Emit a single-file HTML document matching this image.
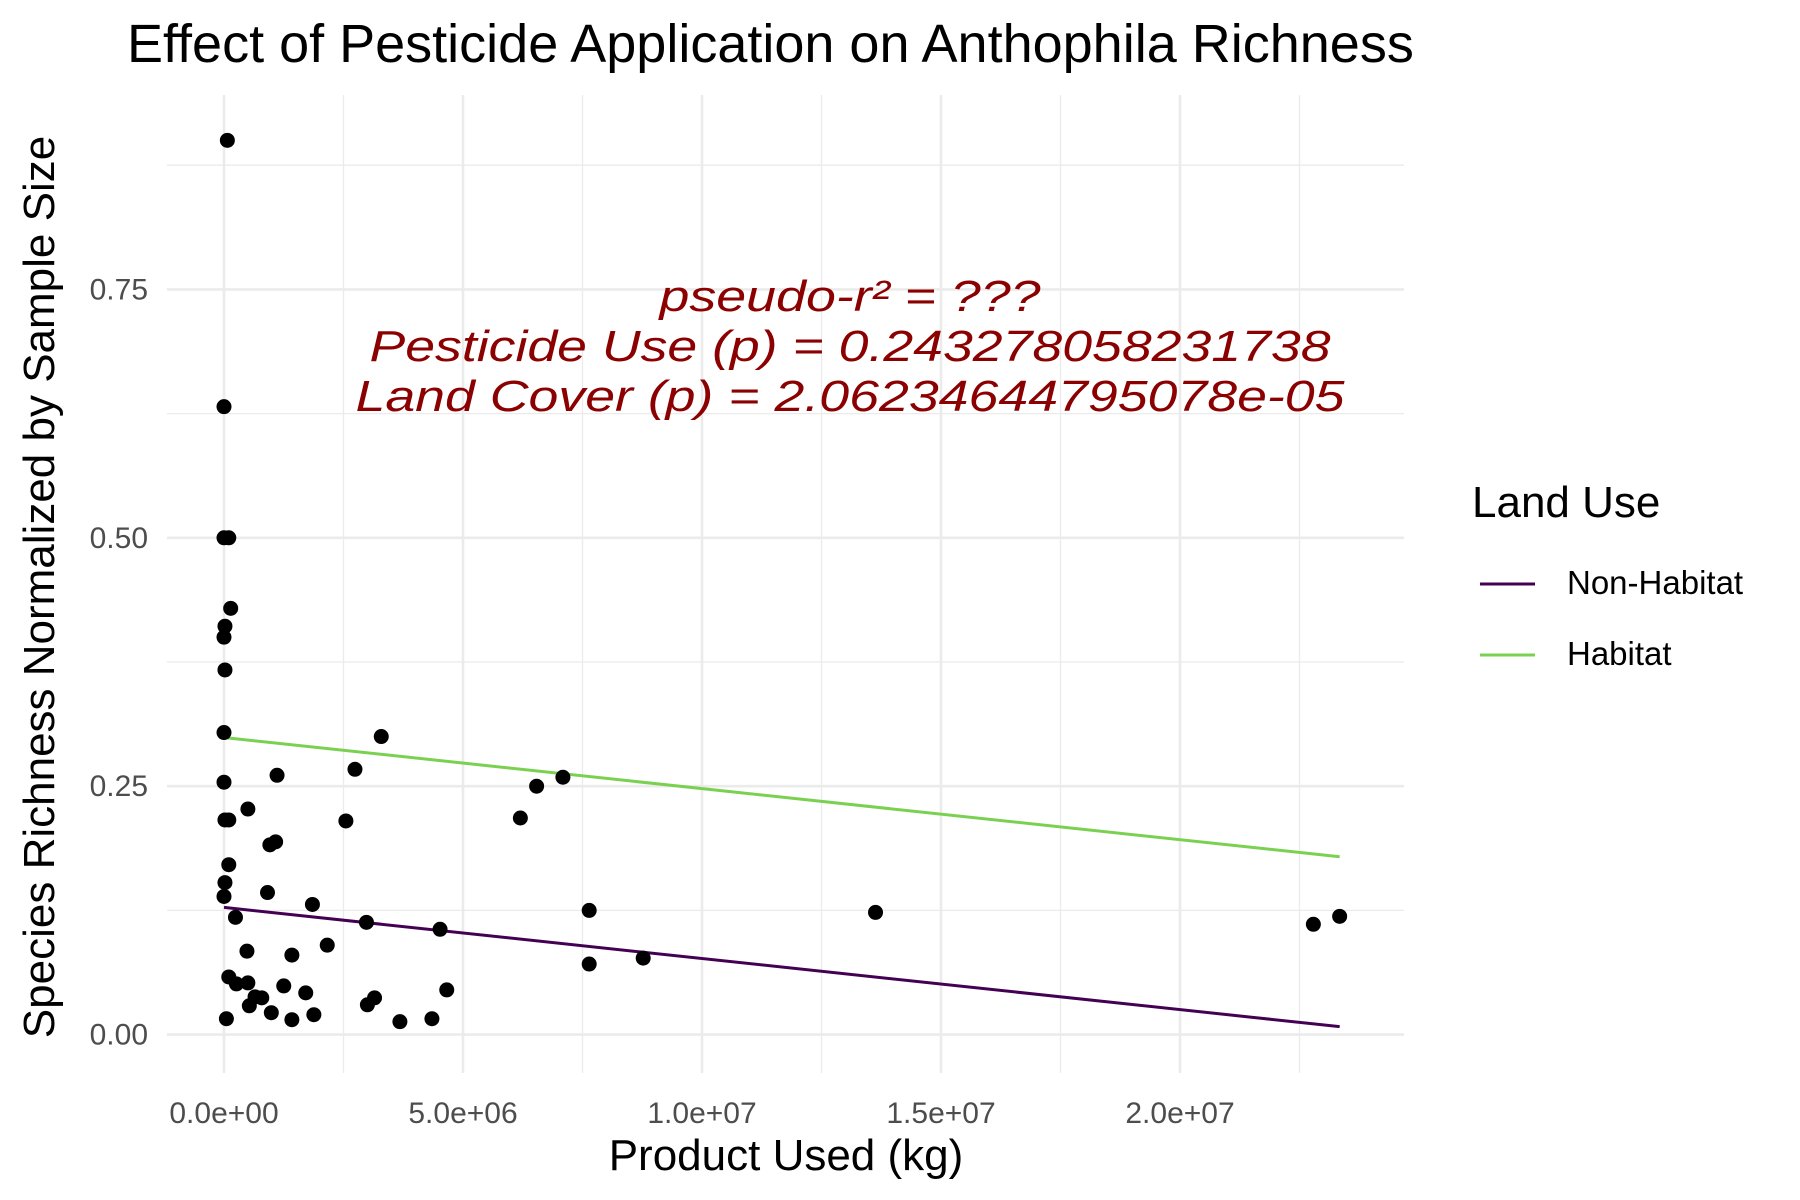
<!DOCTYPE html>
<html><head><meta charset="utf-8"><style>
body{margin:0;background:#fff;}
svg{display:block;font-family:"Liberation Sans",Arial,sans-serif;}
</style></head><body>
<svg id="chart" width="1800" height="1200" viewBox="0 0 1800 1200">
<text x="127" y="62" font-size="54" fill="#000">Effect of Pesticide Application on Anthophila Richness</text>
<g id="grid"></g>
<g id="lines"></g>
<g id="points"></g>
<g id="xticks"></g>
<g id="yticks"></g>
<g fill="#8B0000" font-style="italic" font-size="44" text-anchor="middle">
<text x="850" y="311" textLength="381" lengthAdjust="spacingAndGlyphs">pseudo-r² = ???</text>
<text x="850" y="361" textLength="961" lengthAdjust="spacingAndGlyphs">Pesticide Use (p) = 0.243278058231738</text>
<text x="850" y="411" textLength="989" lengthAdjust="spacingAndGlyphs">Land Cover (p) = 2.06234644795078e-05</text>
</g>
<text x="786" y="1170" font-size="44" text-anchor="middle" fill="#000">Product Used (kg)</text>
<text transform="translate(54,587) rotate(-90)" font-size="44" text-anchor="middle" fill="#000">Species Richness Normalized by Sample Size</text>
<g>
<text x="1472" y="517" font-size="44" fill="#000">Land Use</text>
<line x1="1480" y1="584" x2="1535" y2="584" stroke="#440154" stroke-width="3"/>
<text x="1567" y="594" font-size="33" fill="#000">Non-Habitat</text>
<line x1="1480" y1="655" x2="1535" y2="655" stroke="#7AD151" stroke-width="3"/>
<text x="1567" y="665" font-size="33" fill="#000">Habitat</text>
</g>
</svg>
<script>
const pointX = [0.07,0,0,0.1,0.14,0.02,0,0.02,0,0,0.02,0.1,0.1,0.02,0,0.24,0.1,0.26,0.05,0.48,0.5,0.53,0.65,0.79,0.99,1.25,1.42,1.42,1.71,1.88,0.5,1.11,1.08,0.96,0.91,1.85,2.16,2.55,2.74,2.98,3.0,3.15,3.29,3.68,4.35,4.52,4.66,6.2,6.54,7.09,7.64,7.64,8.77,13.63,22.79,23.34];
const pointY = [0.900,0.632,0.5,0.5,0.429,0.411,0.4,0.367,0.304,0.254,0.216,0.216,0.171,0.153,0.139,0.118,0.058,0.051,0.016,0.084,0.052,0.029,0.038,0.037,0.022,0.049,0.080,0.015,0.042,0.020,0.227,0.261,0.194,0.191,0.143,0.131,0.090,0.215,0.267,0.113,0.030,0.037,0.300,0.013,0.016,0.106,0.045,0.218,0.250,0.259,0.125,0.071,0.077,0.123,0.111,0.119];
const lineNames = ["Non-Habitat","Habitat"];
const lineColors = ["#440154","#7AD151"];
const lineX = [0, 23.34];
const nonHabitatY = [0.128, 0.008];
const habitatY = [0.299, 0.179];
const xTickValues = [0,5,10,15,20];
const xTickLabels = ["0.0e+00","5.0e+06","1.0e+07","1.5e+07","2.0e+07"];
const yTickValues = [0,0.25,0.5,0.75];
const yTickLabels = ["0.00","0.25","0.50","0.75"];

const NS="http://www.w3.org/2000/svg";
const PL=167, PR=1404, PT=95, PB=1073;
function sx(v){return 224 + v*47.8;}
function sy(v){return 1034.6 - v*993.6;}
function mk(t,a,p){const e=document.createElementNS(NS,t);for(const k in a)e.setAttribute(k,a[k]);p.appendChild(e);return e;}
const grid=document.getElementById('grid');
for(let i=0;i<8;i++){const v=0.125*i;
 const l=mk('line',{x1:PL,x2:PR,y1:sy(v),y2:sy(v),stroke:'#ebebeb','stroke-width':i%2?1.3:2.6},grid);
 
 }
for(let i=0;i<10;i++){const v=2.5*i;
 const l=mk('line',{x1:sx(v),x2:sx(v),y1:PT,y2:PB,stroke:'#ebebeb','stroke-width':i%2?1.3:2.6},grid);
 
 }
const lg=document.getElementById('lines');
[nonHabitatY,habitatY].forEach((ys,i)=>{
 const l=mk('line',{x1:sx(lineX[0]),y1:sy(ys[0]),x2:sx(lineX[1]),y2:sy(ys[1]),stroke:lineColors[i],'stroke-width':3},lg);
 
 
});
const pg=document.getElementById('points');
pointX.forEach((x,i)=>{
 const c=mk('circle',{cx:sx(x),cy:sy(pointY[i]),r:7.5,fill:'#000'},pg);
 
 
});
const xt=document.getElementById('xticks');
xTickValues.forEach((v,i)=>{
 const t=mk('text',{x:sx(v),y:1123,'font-size':30,fill:'#4d4d4d','text-anchor':'middle'},xt);
 t.textContent=xTickLabels[i];
 
 
});
const yt=document.getElementById('yticks');
yTickValues.forEach((v,i)=>{
 const t=mk('text',{x:148,y:sy(v)+10,'font-size':30,fill:'#4d4d4d','text-anchor':'end'},yt);
 t.textContent=yTickLabels[i];
 
 
});
</script>
</body></html>
